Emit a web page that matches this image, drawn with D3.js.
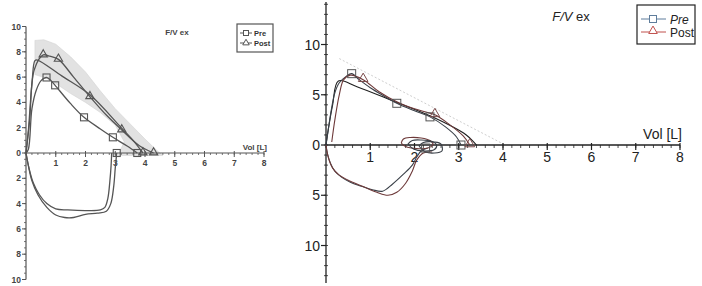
<!DOCTYPE html>
<html>
<head>
<meta charset="utf-8">
<script src="https://cdn.jsdelivr.net/npm/d3@7"></script>
<style>
  body { margin: 0; background: #fff; }
  svg { display: block; }
</style>
</head>
<body>
<svg id="chart" width="702" height="286"></svg>
<script>
// ---- left panel (scanned) : [volume L, flow L/s], inspiration negative
let leftPreExp = [[0,0],[0.08,0.3],[0.2,3.5],[0.35,5.0],[0.5,5.7],[0.69,5.97],[0.85,5.7],[0.98,5.35],[1.5,3.9],[1.95,2.82],[2.5,1.9],[2.92,1.24],[3.4,0.55],[3.74,0]]
let leftPostExp = [[0,0],[0.12,2.5],[0.28,6.6],[0.58,7.75],[0.8,7.65],[1.09,7.4],[1.6,6.0],[2.15,4.45],[2.7,3.0],[3.22,1.82],[3.8,0.6],[4.29,0]]
let leftBestExp = [[0,0],[0.08,1.8],[0.2,5.5],[0.3,7.3],[0.38,7.35],[1.2,6.1],[2.15,4.6],[3.2,2.0],[3.6,1.0],[3.93,0]]
let leftPreInsp = [[0,0],[0.1,-1.2],[0.25,-2.4],[0.45,-3.3],[0.7,-4.0],[1.0,-4.42],[1.4,-4.5],[2.0,-4.55],[2.5,-4.5],[2.65,-4.3],[2.75,-3.6],[2.82,-2.2],[2.86,-1.0],[2.88,0]]
let leftPostInsp = [[0,0],[0.08,-1.0],[0.2,-2.2],[0.4,-3.3],[0.7,-4.3],[1.0,-4.9],[1.3,-5.1],[1.6,-5.1],[2.0,-4.85],[2.4,-4.75],[2.7,-4.6],[2.85,-4.0],[2.95,-2.6],[3.0,-1.2],[3.05,0]]
let leftBand = [[0.3,8.9],[0.6,8.95],[1.0,8.6],[1.5,7.6],[2.0,6.4],[2.5,4.9],[3.0,3.5],[3.5,2.3],[4.0,1.1],[4.4,0.2],[4.6,-0.2],
  [3.1,-0.2],[3.3,0.9],[3.0,2.2],[2.5,3.2],[2.0,4.0],[1.5,4.7],[1.0,5.5],[0.7,5.9],[0.3,6.2]]
let leftPreMarks = [[0.69,5.97],[0.98,5.35],[1.95,2.82],[2.92,1.24],[3.74,0],[3.05,0]]
let leftPostMarks = [[0.58,7.75],[1.09,7.4],[2.15,4.45],[3.22,1.82],[3.93,0],[4.29,0]]
let leftYTicks = [10,8,6,4,2,0,-2,-4,-6,-8,-10]
let leftXTicks = [1,2,3,4,5,6,7,8]

// ---- right panel
let rightPreExp = [[0,0],[0.05,1.5],[0.12,3.5],[0.2,5.2],[0.3,6.2],[0.45,6.8],[0.58,7.1],[0.75,6.5],[1.0,5.7],[1.3,4.9],[1.6,4.15],[2.0,3.4],[2.35,2.8],[2.7,1.8],[2.95,0.8],[3.05,0]]
let rightPostExp = [[0.13,0.3],[0.2,2.5],[0.3,5.0],[0.4,6.5],[0.55,6.95],[0.84,6.5],[1.2,5.3],[1.6,4.3],[2.0,3.6],[2.46,3.0],[2.8,2.0],[3.1,0.9],[3.25,0]]
let rightBestExp = [[0,0],[0.05,1.5],[0.15,4.0],[0.28,6.37],[0.7,5.8],[1.56,4.3],[2.4,2.8],[3.17,1.0],[3.4,0]]
let rightPredicted = [[0.3,8.6],[4.05,0]]
let rightPreInsp = [[0,0],[0.03,-0.8],[0.1,-1.8],[0.2,-2.6],[0.35,-3.2],[0.55,-3.7],[0.8,-4.1],[1.05,-4.45],[1.28,-4.6],[1.5,-3.9],[1.75,-2.9],[1.95,-2.0],[2.05,-1.2],[2.15,-0.6],[2.3,-0.3]]
let rightPostInsp = [[0,0],[0.05,-1.2],[0.15,-2.3],[0.3,-3.0],[0.55,-3.6],[0.85,-4.15],[1.15,-4.7],[1.4,-5.0],[1.6,-4.7],[1.8,-3.8],[1.95,-2.6],[2.05,-1.5],[2.2,-0.8],[2.4,-0.7]]
let rightLoop1 = [[1.7,0.2],[1.75,0.6],[1.9,0.75],[2.15,0.7],[2.35,0.45],[2.42,0.05],[2.3,-0.3],[2.05,-0.35],[1.8,-0.15],[1.7,0.2]]
let rightLoop2 = [[1.85,0.1],[1.95,0.45],[2.15,0.5],[2.4,0.35],[2.5,0.0],[2.45,-0.45],[2.2,-0.6],[1.98,-0.4],[1.85,0.1]]
let rightLoop3 = [[2.1,-0.1],[2.2,0.25],[2.45,0.3],[2.6,0.1],[2.62,-0.6],[2.45,-0.8],[2.25,-0.7],[2.1,-0.1]]
let rightPreMarks = [[0.58,7.1],[1.6,4.15],[2.35,2.8],[3.05,0],[2.25,-0.3]]
let rightPostMarks = [[0.84,6.5],[2.46,3.0],[3.25,0]]
let rightYTicks = [10,5,0,-5,-10]
let rightXTicks = [1,2,3,4,5,6,7,8]

let svg = d3.select('#chart')
let smooth = (x, y) => d3.line().x(d => x(d[0])).y(d => y(d[1])).curve(d3.curveCatmullRom.alpha(0.5))
let font = 'Liberation Sans, Arial, sans-serif'

// ================= LEFT =================
let lx = d3.scaleLinear().domain([0, 8]).range([26, 264])
let ly = d3.scaleLinear().domain([-10, 10]).range([279.5, 26.5])
let L = svg.append('g')
let lcol = '#555'

// predicted band
L.append('path')
  .attr('d', d3.line().x(d => lx(d[0])).y(d => ly(d[1])).curve(d3.curveLinearClosed)(leftBand))
  .attr('fill', '#e2e2e2').attr('stroke', '#d4d4d4').attr('stroke-width', 0.6)

// axes
L.append('line').attr('x1', lx(0)).attr('x2', lx(0)).attr('y1', ly(10)).attr('y2', ly(-10)).attr('stroke', lcol).attr('stroke-width', 1.2)
L.append('line').attr('x1', lx(0)).attr('x2', lx(8)).attr('y1', ly(0)).attr('y2', ly(0)).attr('stroke', lcol).attr('stroke-width', 1.2)
L.selectAll('.ly-minor').data(d3.range(-10, 10.01, 0.5)).enter().append('line')
  .attr('x1', lx(0) - 2).attr('x2', lx(0)).attr('y1', d => ly(d)).attr('y2', d => ly(d))
  .attr('stroke', lcol).attr('stroke-width', 0.8)
L.selectAll('.ly-major').data(leftYTicks).enter().append('line')
  .attr('x1', lx(0) - 4).attr('x2', lx(0)).attr('y1', d => ly(d)).attr('y2', d => ly(d))
  .attr('stroke', lcol).attr('stroke-width', 1)
L.selectAll('.ly-lab').data(leftYTicks).enter().append('text')
  .attr('x', lx(0) - 5).attr('y', d => ly(d) + 3)
  .attr('text-anchor', 'end').attr('font-size', 8.5).attr('font-weight', 'bold')
  .attr('font-family', font).attr('fill', '#444')
  .text(d => Math.abs(d))
L.selectAll('.lx-minor').data(d3.range(0, 8.01, 0.2)).enter().append('line')
  .attr('x1', d => lx(d)).attr('x2', d => lx(d)).attr('y1', ly(0)).attr('y2', ly(0) + 2)
  .attr('stroke', lcol).attr('stroke-width', 0.8)
L.selectAll('.lx-major').data(leftXTicks).enter().append('line')
  .attr('x1', d => lx(d)).attr('x2', d => lx(d)).attr('y1', ly(0) - 2).attr('y2', ly(0) + 4)
  .attr('stroke', lcol).attr('stroke-width', 1)
L.selectAll('.lx-lab').data(leftXTicks).enter().append('text')
  .attr('x', d => lx(d)).attr('y', ly(0) + 13)
  .attr('text-anchor', 'middle').attr('font-size', 8.5).attr('font-weight', 'bold')
  .attr('font-family', font).attr('fill', '#444')
  .text(d => d)
L.append('text').attr('x', 267).attr('y', ly(0) - 3).attr('text-anchor', 'end')
  .attr('font-size', 8).attr('font-weight', 'bold').attr('font-family', font)
  .attr('fill', '#444').text('Vol [L]')
L.append('text').attr('x', 177).attr('y', 35).attr('text-anchor', 'middle')
  .attr('font-size', 8).attr('font-weight', 'bold').attr('font-family', font)
  .attr('fill', '#444').text('F/V ex')

// curves
;[leftPreExp, leftPostExp, leftBestExp, leftPreInsp, leftPostInsp].forEach(c => {
  L.append('path').attr('d', smooth(lx, ly)(c)).attr('fill', 'none')
    .attr('stroke', lcol).attr('stroke-width', 1.3)
})
L.selectAll('.lsq').data(leftPreMarks).enter().append('rect')
  .attr('x', d => lx(d[0]) - 3.5).attr('y', d => ly(d[1]) - 3.5).attr('width', 7).attr('height', 7)
  .attr('fill', 'none').attr('stroke', lcol).attr('stroke-width', 1.1)
let tri = d3.symbol().type(d3.symbolTriangle).size(30)
L.selectAll('.ltri').data(leftPostMarks).enter().append('path')
  .attr('d', tri).attr('transform', d => 'translate(' + lx(d[0]) + ',' + (ly(d[1]) - 0.5) + ')')
  .attr('fill', 'none').attr('stroke', lcol).attr('stroke-width', 1.1)

// left legend
let lg = L.append('g').attr('transform', 'translate(237,24)')
lg.append('rect').attr('width', 36).attr('height', 28).attr('fill', '#fff').attr('stroke', lcol).attr('stroke-width', 1.2)
;[['Pre', 'sq'], ['Post', 'tri']].forEach((e, i) => {
  let yy = 9 + i * 10
  lg.append('line').attr('x1', 3).attr('x2', 15).attr('y1', yy).attr('y2', yy).attr('stroke', lcol)
  if (e[1] == 'sq') lg.append('rect').attr('x', 6.5).attr('y', yy - 2.5).attr('width', 5).attr('height', 5).attr('fill', '#fff').attr('stroke', lcol)
  else lg.append('path').attr('d', d3.symbol().type(d3.symbolTriangle).size(18)).attr('transform', 'translate(9,' + yy + ')').attr('fill', '#fff').attr('stroke', lcol)
  lg.append('text').attr('x', 17).attr('y', yy + 3).attr('font-size', 7.5).attr('font-weight', 'bold')
    .attr('font-family', font).attr('fill', '#333').text(e[0])
})

// ================= RIGHT =================
let rx = d3.scaleLinear().domain([0, 8]).range([326, 680])
let ry = d3.scaleLinear().domain([-13.7, 14.2]).range([282.7, 2.3])
let R = svg.append('g')
let rcol = '#222'

R.append('path').attr('d', d3.line().x(d => rx(d[0])).y(d => ry(d[1]))(rightPredicted))
  .attr('stroke', '#cfcfcf').attr('stroke-width', 1).attr('stroke-dasharray', '2,2').attr('fill', 'none')

R.append('line').attr('x1', rx(0)).attr('x2', rx(0)).attr('y1', 2).attr('y2', 283).attr('stroke', rcol).attr('stroke-width', 1.3)
R.append('line').attr('x1', rx(0)).attr('x2', rx(8)).attr('y1', ry(0)).attr('y2', ry(0)).attr('stroke', rcol).attr('stroke-width', 1.3)
R.selectAll('.ry-minor').data(d3.range(-13, 14.01, 1)).enter().append('line')
  .attr('x1', rx(0) - 2).attr('x2', rx(0) + 2).attr('y1', d => ry(d)).attr('y2', d => ry(d))
  .attr('stroke', rcol).attr('stroke-width', 0.8)
R.selectAll('.ry-major').data(rightYTicks).enter().append('line')
  .attr('x1', rx(0) - 5).attr('x2', rx(0)).attr('y1', d => ry(d)).attr('y2', d => ry(d))
  .attr('stroke', rcol).attr('stroke-width', 1.2)
R.selectAll('.ry-lab').data(rightYTicks).enter().append('text')
  .attr('x', rx(0) - 6).attr('y', d => ry(d) + 5)
  .attr('text-anchor', 'end').attr('font-size', 14)
  .attr('font-family', font).attr('fill', '#222')
  .text(d => Math.abs(d))
R.selectAll('.rx-minor').data(d3.range(0, 8.01, 0.2)).enter().append('line')
  .attr('x1', d => rx(d)).attr('x2', d => rx(d)).attr('y1', ry(0)).attr('y2', ry(0) + 3)
  .attr('stroke', rcol).attr('stroke-width', 0.8)
R.selectAll('.rx-major').data(rightXTicks).enter().append('line')
  .attr('x1', d => rx(d)).attr('x2', d => rx(d)).attr('y1', ry(0) - 2).attr('y2', ry(0) + 5)
  .attr('stroke', rcol).attr('stroke-width', 1.2)
R.selectAll('.rx-lab').data(rightXTicks).enter().append('text')
  .attr('x', d => rx(d)).attr('y', ry(0) + 17)
  .attr('text-anchor', 'middle').attr('font-size', 14)
  .attr('font-family', font).attr('fill', '#222')
  .text(d => d)
R.append('text').attr('x', 682).attr('y', ry(0) - 6).attr('text-anchor', 'end')
  .attr('font-size', 14).attr('font-family', font).attr('fill', '#222').text('Vol [L]')
let tt = R.append('text').attr('x', 571).attr('y', 21).attr('text-anchor', 'middle')
  .attr('font-size', 13).attr('font-family', font).attr('fill', '#222')
tt.append('tspan').attr('font-style', 'italic').text('F/V')
tt.append('tspan').text(' ex')

// curves
let preLine = '#3a4048', postLine = '#6e3a3a'
;[[rightBestExp, '#1e1e1e'], [rightPreExp, preLine], [rightPostExp, postLine], [rightPreInsp, preLine], [rightPostInsp, postLine],
  [rightLoop1, postLine], [rightLoop2, preLine], [rightLoop3, preLine]].forEach(c => {
  R.append('path').attr('d', smooth(rx, ry)(c[0])).attr('fill', 'none')
    .attr('stroke', c[1]).attr('stroke-width', 1.1)
})
let preMark = '#5f7d9c', postMark = '#c0504d'
R.selectAll('.rsq').data(rightPreMarks).enter().append('rect')
  .attr('x', d => rx(d[0]) - 4).attr('y', d => ry(d[1]) - 4).attr('width', 8).attr('height', 8)
  .attr('fill', 'none').attr('stroke', '#555').attr('stroke-width', 1)
R.selectAll('.rtri').data(rightPostMarks).enter().append('path')
  .attr('d', d3.symbol().type(d3.symbolTriangle).size(40))
  .attr('transform', d => 'translate(' + rx(d[0]) + ',' + (ry(d[1]) - 1) + ')')
  .attr('fill', 'none').attr('stroke', '#7a4a4a').attr('stroke-width', 1)

// right legend
let rg = R.append('g').attr('transform', 'translate(637,5)')
rg.append('rect').attr('width', 58).attr('height', 39).attr('fill', '#fff').attr('stroke', '#222').attr('stroke-width', 1.2)
;[['Pre', preMark, 'sq', 'italic'], ['Post', postMark, 'tri', 'normal']].forEach((e, i) => {
  let yy = 14 + i * 13
  rg.append('line').attr('x1', 4).attr('x2', 29).attr('y1', yy).attr('y2', yy).attr('stroke', e[1])
  if (e[2] == 'sq') rg.append('rect').attr('x', 12.5).attr('y', yy - 3.5).attr('width', 7).attr('height', 7).attr('fill', '#fff').attr('stroke', e[1])
  else rg.append('path').attr('d', d3.symbol().type(d3.symbolTriangle).size(32)).attr('transform', 'translate(16,' + (yy - 1) + ')').attr('fill', '#fff').attr('stroke', e[1])
  rg.append('text').attr('x', 33).attr('y', yy + 4.5).attr('font-size', 12).attr('font-style', e[3])
    .attr('font-family', font).attr('fill', '#222').text(e[0])
})
</script>
</body>
</html>
